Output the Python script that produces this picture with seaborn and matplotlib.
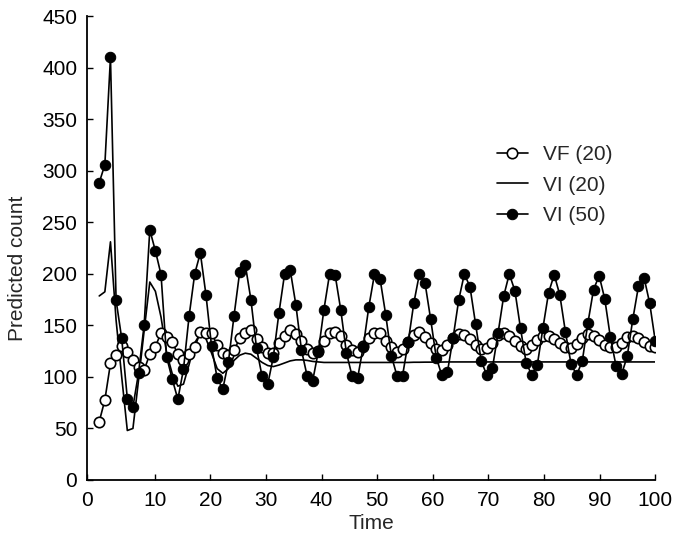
import numpy as np
import pandas as pd
import matplotlib
matplotlib.use('Agg')
import matplotlib.pyplot as plt
import seaborn as sns

# time points (100 samples spread over 0-100)
time = np.linspace(0, 100, 100)

vf_20 = [56.6, 77.6, 113, 121.3, 130.3, 123.8, 116.4, 109.2, 106.7, 122,
         129.3, 142.9, 138.7, 133.6, 122, 116, 121.8, 128.7, 143.3, 142.9,
         142.6, 130.8, 123.2, 121.5, 125.6, 137.5, 142.6, 145.8, 137.2, 129.3,
         123.5, 123, 132.6, 140, 145.8, 141.3, 134.8, 126.8, 123.5, 125.3,
         134.5, 142.9, 143.5, 139.7, 130.9, 126.1, 124.4, 130, 138, 142.6,
         142.3, 134.8, 129.3, 124.4, 126.8, 134.1, 140.3, 143.2, 139, 132.6,
         127.4, 125.8, 130.6, 137.4, 141.3, 140.6, 137.1, 130.6, 127.1, 128.3,
         133.2, 140.6, 142.3, 139.7, 134.8, 130, 127.4, 130.6, 135.8, 139.7,
         140, 136.8, 132.6, 128.7, 128.3, 131.9, 137.7, 141.3, 139.7, 135.8,
         131.3, 128.7, 129, 132.6, 138.4, 139.7, 137.7, 133.6, 130, 129.3]

vi_20 = [178.5, 182.5, 231, 155, 100, 48, 50, 97, 145, 192,
         183, 158, 123, 103, 91, 93, 112, 133, 142, 137,
         123, 108, 103.5, 108, 116, 121, 123, 122, 118, 114,
         111, 110, 111.5, 113.5, 115.5, 116.5, 116.5, 116, 115, 114.5,
         114, 114, 114, 114, 114, 114, 114, 114, 114, 114,
         114, 114, 114, 114, 114, 114, 114.2, 114.2, 114.3, 114.3,
         114.4, 114.4, 114.5, 114.5, 114.5, 114.5, 114.5, 114.5, 114.5, 114.5,
         114.5, 114.5, 114.5, 114.5, 114.5, 114.5, 114.5, 114.5, 114.5, 114.5,
         114.5, 114.5, 114.5, 114.5, 114.5, 114.5, 114.5, 114.5, 114.5, 114.5,
         114.5, 114.5, 114.5, 114.5, 114.5, 114.5, 114.5, 114.5, 114.5, 114.5]

vi_50 = [288.4, 305.8, 410, 174.3, 137.4, 79, 71, 103.8, 150.8, 242.5,
         222.2, 199.3, 119.3, 97.7, 78.3, 107.5, 159, 200, 220.2, 179.6,
         129.6, 98.5, 88.2, 114.5, 159.4, 201.5, 209, 175, 128, 100.4,
         92.8, 119.6, 162.3, 199.8, 203.7, 170.1, 126.1, 101.2, 96.3, 124.4,
         165.2, 199.5, 198.8, 164.9, 123.5, 101.2, 98.9, 129.3, 168.1, 199.5,
         195, 160.3, 120.6, 101.2, 101.2, 133.6, 171.4, 199.8, 191.1, 156,
         118.8, 101.4, 105, 138, 174.6, 199.8, 187.5, 151.3, 115.7, 101.5,
         108.6, 142.3, 178.2, 199.8, 183.6, 147.1, 113.8, 101.8, 111.8, 147.7,
         181.7, 199.1, 179.4, 143.5, 112.5, 101.8, 115.4, 152.3, 184.6, 198.2,
         175.6, 138.4, 110.9, 102.5, 120, 156.2, 187.9, 196.2, 171.4, 134.5]

x_ticks = [10, 20, 30, 40, 50, 60, 70, 80, 90, 100]
y_ticks = [0, 50, 100, 150, 200, 250, 300, 350, 400, 450]

sns.set_style('ticks')
plt.rcParams['font.family'] = ['Liberation Sans', 'DejaVu Sans']

df = pd.DataFrame({'Time': time, 'VF (20)': vf_20, 'VI (20)': vi_20, 'VI (50)': vi_50})

fig = plt.figure(figsize=(6.76, 5.36), dpi=100)
ax = fig.add_axes([0.1287, 0.1045, 0.8407, 0.8656])

sns.lineplot(data=df, x='Time', y='VI (20)', ax=ax, color='black', lw=1.2,
             label='VI (20)')
sns.lineplot(data=df, x='Time', y='VF (20)', ax=ax, color='black', lw=1.2,
             marker='o', markersize=7.5, markerfacecolor='white',
             markeredgecolor='black', markeredgewidth=1.2, label='VF (20)')
sns.lineplot(data=df, x='Time', y='VI (50)', ax=ax, color='black', lw=1.2,
             marker='o', markersize=7.5, markerfacecolor='black',
             markeredgecolor='black', label='VI (50)')

# axis starts a little before t=0, the "0" label sits at the corner
x_left = -2.2
ax.set_xlim(x_left, 100)
ax.set_ylim(0, 450)
ax.set_xticks([x_left] + x_ticks)
ax.set_xticklabels(['0'] + [str(t) for t in x_ticks])
ax.set_yticks(y_ticks)
ax.tick_params(axis='both', direction='in', length=4.5, width=1.0,
               labelsize=15, colors='black')
ax.tick_params(axis='x', pad=8)
ax.tick_params(axis='y', pad=7)
for s in ['top', 'right']:
    ax.spines[s].set_visible(False)
for s in ['left', 'bottom']:
    ax.spines[s].set_linewidth(1.3)
    ax.spines[s].set_color('black')

ax.set_xlabel('Time', fontsize=15, labelpad=3)
ax.set_ylabel('Predicted count', fontsize=15)
ax.yaxis.set_label_coords(-0.106, 0.457)

handles, labels = ax.get_legend_handles_labels()
order = [labels.index(n) for n in ['VF (20)', 'VI (20)', 'VI (50)']]
ax.legend([handles[i] for i in order], [labels[i] for i in order],
          loc='upper left', bbox_to_anchor=(0.722, 0.722), frameon=False,
          fontsize=15, handlelength=1.45, handletextpad=0.75,
          labelspacing=0.56, numpoints=1, borderpad=0, borderaxespad=0)

fig.savefig('out.png', dpi=100)
